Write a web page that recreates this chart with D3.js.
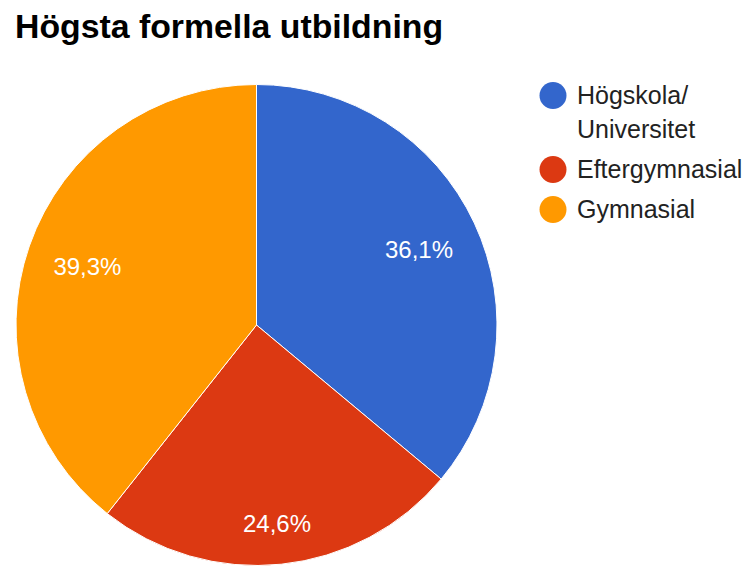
<!DOCTYPE html>
<html>
<head>
<meta charset="utf-8">
<script src="https://cdn.jsdelivr.net/npm/d3@7"></script>
<style>
  html, body { margin: 0; padding: 0; background: #fff; }
  svg { display: block; font-family: "Liberation Sans", Arial, sans-serif; }
</style>
</head>
<body>
<svg id="chart" width="748" height="566"></svg>
<script>
const title = 'Högsta formella utbildning';
const categories = ['Högskola/Universitet', 'Eftergymnasial', 'Gymnasial'];
const counts = [22, 15, 24];
const colors = ['#3366cc', '#dc3912', '#ff9900'];

const width = 748;
const height = 566;
const cx = 256.5;
const cy = 325;
const radius = 240.5;

const svg = d3.select('#chart');

// titel
svg.append('text')
  .attr('x', 15)
  .attr('y', 38)
  .attr('font-size', 33.8)
  .attr('font-weight', 'bold')
  .attr('fill', '#000')
  .text(title);

// tårta
const total = d3.sum(counts);
const pie = d3.pie().sort(null).value(d => d);
const arc = d3.arc().innerRadius(0).outerRadius(radius);
const arcs = pie(counts);
const color = d3.scaleOrdinal().domain(categories).range(colors);

const g = svg.append('g').attr('transform', `translate(${cx},${cy})`);
g.selectAll('path').data(arcs).enter()
  .append('path')
  .attr('d', arc)
  .attr('fill', (d, i) => color(categories[i]))
  .attr('stroke', '#fff')
  .attr('stroke-width', 1);

// procent-etiketter, placerade så att bortre hörnet hamnar innanför kanten
const fmt = v => (v * 100).toFixed(1).replace('.', ',') + '%';
const labelFs = 24;
const reach = radius * 0.89;
g.selectAll('text.pct').data(arcs).enter()
  .append('text')
  .attr('class', 'pct')
  .attr('font-size', labelFs)
  .attr('fill', '#fff')
  .attr('text-anchor', 'middle')
  .text(d => fmt(d.value / total))
  .each(function (d) {
    const w = this.getComputedTextLength();
    const h = labelFs * 0.72;
    const a = (d.startAngle + d.endAngle) / 2;
    const ux = Math.sin(a), uy = -Math.cos(a);
    const b = Math.abs(ux) * w / 2 + Math.abs(uy) * h / 2;
    const c = (w * w + h * h) / 4 - reach * reach;
    const t = -b + Math.sqrt(b * b - c);
    d3.select(this)
      .attr('x', t * ux)
      .attr('y', t * uy + h / 2);
  });

// förklaring
const legendX = 553;
const textX = 577;
const lineH = 34;
const itemGap = 40;
const legendFs = 25;
const wrap = s => s.includes('/') ? s.split(/(?<=\/)/) : [s];

let base = 104;
const legend = svg.append('g');
categories.forEach((name, i) => {
  const lines = wrap(name);
  legend.append('circle')
    .attr('cx', legendX)
    .attr('cy', base - 8.5)
    .attr('r', 13.5)
    .attr('fill', colors[i]);
  const txt = legend.append('text')
    .attr('x', textX)
    .attr('y', base)
    .attr('font-size', legendFs)
    .attr('fill', '#222');
  lines.forEach((l, j) => {
    txt.append('tspan')
      .attr('x', textX)
      .attr('y', base + j * lineH)
      .text(l);
  });
  base += (lines.length - 1) * lineH + itemGap;
});
</script>
</body>
</html>
